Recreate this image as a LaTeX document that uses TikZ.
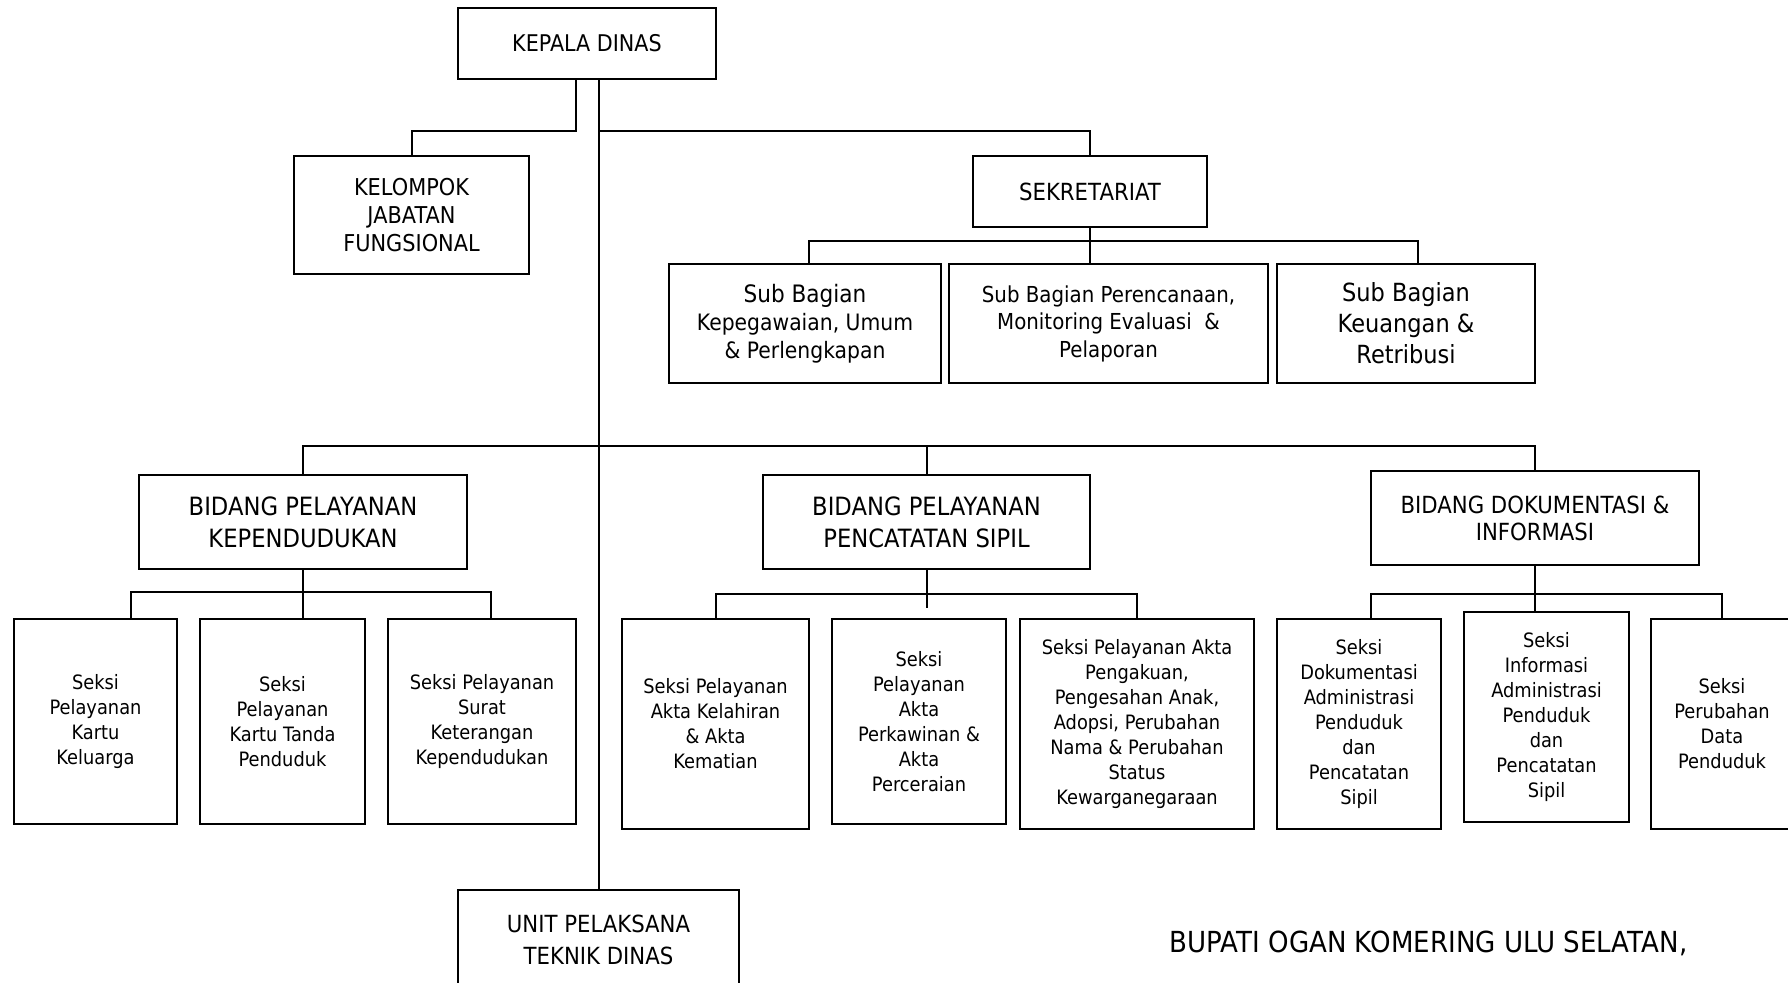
\documentclass[tikz,border=0pt]{standalone}
\usepackage{fontspec}
\setmainfont{DejaVu Sans}[FakeStretch=0.9]
\newcommand\fsz[2]{\fontsize{#1}{#2}\selectfont}
\begin{document}
\begin{tikzpicture}[x=0.5pt, y=-0.5pt, line width=1pt,
  box/.style args={#1x#2}{draw, align=center, inner sep=0pt, minimum width=#1*0.5pt, minimum height=#2*0.5pt},
  seksi/.style={box=#1, font=\fsz{9.9}{12.5}}]
\useasboundingbox (0,0) rectangle (1788,983);
\clip (0,0) rectangle (1788,983);
% pimpinan dan sekretariat
\node[box=258x71, font=\fsz{11.5}{14}] (kd) at (587,43.5) {KEPALA DINAS};
\node[box=235x118, font=\fsz{11.6}{14}] (kjf) at (411.5,215) {KELOMPOK\\JABATAN\\FUNGSIONAL};
\node[box=234x71, font=\fsz{11.8}{14}] (sek) at (1090,191.5) {SEKRETARIAT};
\node[box=272x119, font=\fsz{11.3}{14}] (sb1) at (805,323.5) {{\fsz{12}{14}Sub Bagian}\\Kepegawaian, Umum\\\& Perlengkapan};
\node[box=319x119, font=\fsz{11}{13.75}] (sb2) at (1108.5,323.5) {Sub Bagian Perencanaan,\\Monitoring Evaluasi \ \&\\Pelaporan};
\node[box=258x119, font=\fsz{12.5}{15.5}] (sb3) at (1406,323.5) {Sub Bagian\\Keuangan \&\\Retribusi};
% bidang
\node[box=328x94, font=\fsz{12.6}{16}] (bpk) at (303,522) {BIDANG PELAYANAN\\KEPENDUDUKAN};
\node[box=327x94, font=\fsz{12.6}{16}] (pcs) at (926.5,522) {BIDANG PELAYANAN\\PENCATATAN SIPIL};
\node[box=328x94, font=\fsz{11.8}{13.5}] (bdi) at (1535,518) {BIDANG DOKUMENTASI \&\\INFORMASI};
% seksi
\node[seksi=163x205] (kk) at (95.5,721.5) {Seksi\\Pelayanan\\Kartu\\Keluarga};
\node[seksi=165x205] (ktp) at (282.5,721.5) {Seksi\\Pelayanan\\Kartu Tanda\\Penduduk};
\node[seksi=188x205] (skp) at (482,721.5) {Seksi Pelayanan\\Surat\\Keterangan\\Kependudukan};
\node[seksi=187x210] (akl) at (715.5,724) {Seksi Pelayanan\\Akta Kelahiran\\\& Akta\\Kematian};
\node[seksi=174x205] (apk) at (919,721.5) {Seksi\\Pelayanan\\Akta\\Perkawinan \&\\Akta\\Perceraian};
\node[seksi=234x210] (apa) at (1137,724) {Seksi Pelayanan Akta\\Pengakuan,\\Pengesahan Anak,\\Adopsi, Perubahan\\Nama \& Perubahan\\Status\\Kewarganegaraan};
\node[seksi=164x210] (dok) at (1359,724) {Seksi\\Dokumentasi\\Administrasi\\Penduduk\\dan\\Pencatatan\\Sipil};
\node[seksi=165x210] (inf) at (1546.5,717) {Seksi\\Informasi\\Administrasi\\Penduduk\\dan\\Pencatatan\\Sipil};
\node[seksi=142x210] (pdp) at (1722,724) {Seksi\\Perubahan\\Data\\Penduduk};
\node[box=281x100, font=\fsz{11.8}{16}] (upt) at (598.5,940) {UNIT PELAKSANA\\TEKNIK DINAS};
\node[font=\fsz{14.5}{17}] (bupati) at (1428.5,943) {BUPATI OGAN KOMERING ULU SELATAN,};
% titik bantu garis
\foreach \x\y\t in {576/131/kdl,809/241/subl,1418/241/subr,599/446/bidbus,
  131/592/kl,491/592/kr,926.5/594/cbus,926.5/608/cend,1371/594/dl}
\coordinate (\t) at (\x,\y);
\draw (kd.south -| kdl) -- (kdl) -| (kjf.north);
\draw (kd.south -| upt.north) -- (upt.north);
\draw (upt.north |- kdl) -| (sek.north);
\draw (subl |- sb1.north) -- (subl) -- (subr) -- (subr |- sb3.north);
\draw (sek.south) -- (sek.south |- sb2.north);
\draw (bpk.north) |- (bidbus) -| (bdi.north);
\draw (pcs.north) -- (pcs.north |- bidbus);
\draw (kl |- kk.north) -- (kl) -- (kr) -- (kr |- skp.north);
\draw (bpk.south) -- (bpk.south |- ktp.north);
\draw (akl.north) |- (cbus) -| (apa.north);
\draw (pcs.south) -- (cend);
\draw (dl |- dok.north) -- (dl) -| (pdp.north);
\draw (bdi.south) -- (bdi.south |- inf.north);
\end{tikzpicture}
\end{document}
